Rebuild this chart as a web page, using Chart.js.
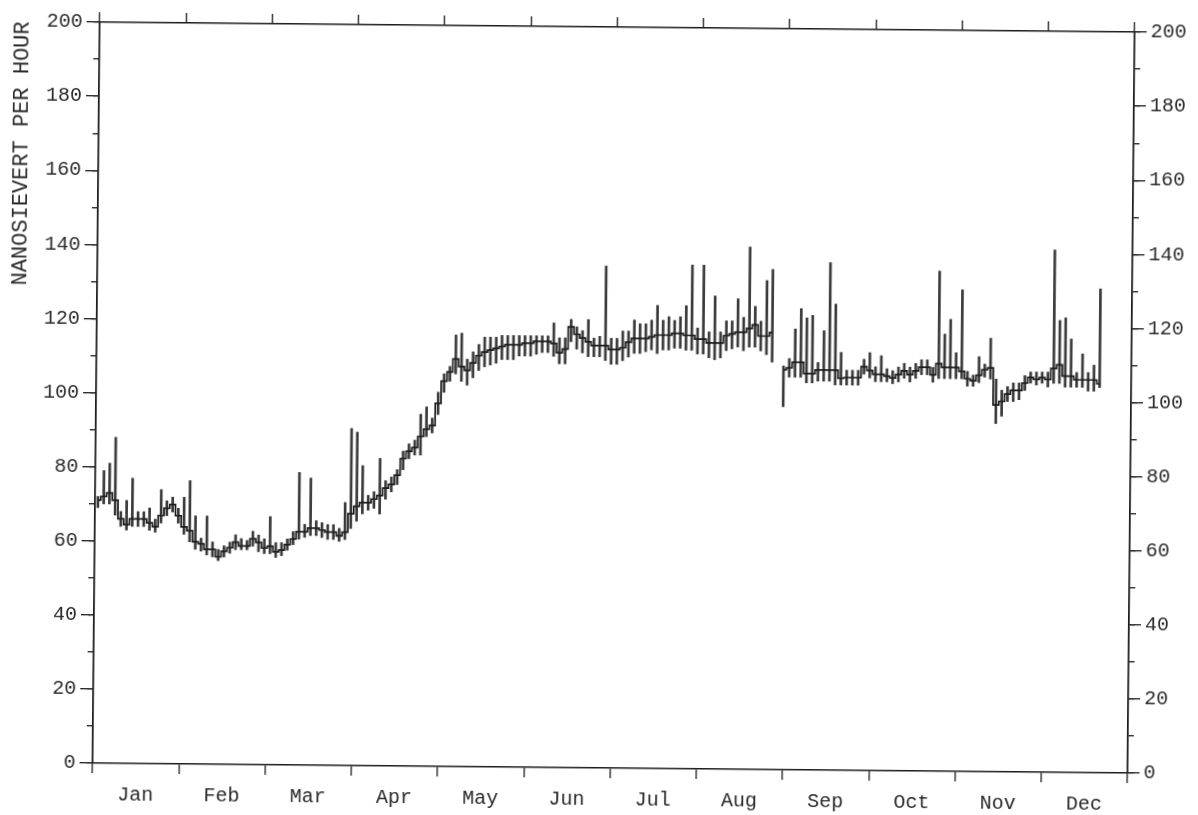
<!DOCTYPE html>
<html>
<head>
<meta charset="utf-8">
<script src="https://cdn.jsdelivr.net/npm/chart.js@4.4.1/dist/chart.umd.min.js"></script>
<style>
  html, body { margin: 0; background: #fff; overflow: hidden; }
  /* the scanned original is tilted by about half a degree */
  #wrap { width: 1198px; height: 815px; transform: rotate(0.55deg); transform-origin: 599px 407px; }
</style>
</head>
<body>
<div id="wrap"><canvas id="doseChart" width="1198" height="815"></canvas></div>
<script>
const MONTHS = ["Jan", "Feb", "Mar", "Apr", "May", "Jun", "Jul", "Aug", "Sep", "Oct", "Nov", "Dec"];
const SAMPLES_PER_MONTH = 15; // one reading every ~2 days
const Y_MAJOR_TICKS = [0, 20, 40, 60, 80, 100, 120, 140, 160, 180, 200];

// dose rate, nSv/h: running level, top and bottom of each day's swing
const doseLevel = [
  71, 72, 73, 71, 66, 64.5, 66, 66, 66, 65, 64, 67, 69, 70, 67,
  64, 63, 60, 59.5, 58, 58, 56, 57.5, 58.5, 60, 59, 59, 61, 60, 58.5,
  59, 57.5, 58, 59.5, 61, 63, 63, 64, 64, 63.5, 63, 63, 62, 63, 68,
  70, 71, 71, 72, 73, 75, 76, 78.5, 83, 85, 86, 89, 91, 92, 98,
  104, 106.5, 110, 108, 107, 109, 111, 112, 112.5, 113, 113.5, 114, 114, 114, 114.5,
  114.5, 115, 115, 115, 114.5, 112, 113, 119, 117, 116, 115, 114, 114, 114, 113,
  113, 113.5, 115, 116, 116, 116, 116.5, 117, 117, 117, 117.5, 117.5, 117, 117, 116,
  116, 115, 115, 115, 117, 117.5, 118, 118, 119, 120, 117, 117, 118, null, 108,
  108.5, 110, 110, 107, 107, 108, 108, 108, 108, 105.8, 106, 106, 106, 109, 108,
  107, 107, 106.5, 106, 107, 108, 107, 108, 109, 109, 107, 110, 109, 109, 109,
  108, 106, 105.5, 107, 108.5, 109, 99, 100, 102, 103, 103, 105, 106.5, 106, 106.5,
  106, 109, 110, 107, 107, 106, 106, 106, 106, 105, null, null, null, null, null
];
const doseHigh = [
  72, 79, 81, 88, 68, 71, 77, 68, 68, 69, 66, 74, 71, 72, 69,
  72, 76.5, 67, 61, 67, 60, 58, 59, 60, 62, 61, 60.5, 63, 62, 61,
  67, 60, 60, 61, 63, 79, 65, 77.5, 66, 65.5, 65, 65, 64, 71, 91,
  90, 81, 73, 74, 83, 77, 78, 80, 85, 87, 88, 95, 97, 94, 101,
  106, 108, 116.5, 117, 110, 112, 114, 116, 116, 116, 116.5, 116.5, 116.5, 116.5, 116.5,
  116.5, 116.5, 116.5, 116.5, 120, 116, 116, 121, 119, 118, 121, 116, 116.5, 135.5, 116,
  116, 118, 118, 121, 120, 120, 121, 125, 121, 122, 121, 122, 125, 136, 119,
  136, 118, 127.7, 118, 121, 121, 127, 122, 141, 125, 121, 132, 135, null, 109,
  111, 119, 124.5, 122, 122.7, 110, 118.6, 137, 125.8, 112.8, 108, 108, 108, 111, 112.8,
  109, 112, 108.5, 108, 109, 110, 109, 110, 111, 111, 109, 135, 118, 122, 113,
  130, 108, 107, 112, 110, 117, 106, 103, 104, 105, 105, 107, 108, 108, 108,
  108, 141, 122, 122.7, 117, 108, 113, 108, 110, 130.6, null, null, null, null, null
];
const doseLow = [
  69, 70, 70, 67, 64, 63, 64, 64, 64, 63, 62.5, 65, 67, 68, 65,
  62, 60, 58, 57.5, 56.5, 56, 55, 56, 57, 58, 58, 58, 59, 57.5, 57,
  57, 56, 56.5, 58, 59.5, 61, 61.5, 62, 62, 61.5, 61, 61, 60.5, 61, 64,
  66, 68, 69, 69.5, 68, 72, 74, 76, 80, 83, 84, 84, 89, 90, 95,
  101, 104, 106, 104, 103, 105, 107, 108, 108.5, 109, 110, 110, 110, 111, 111,
  111, 111.5, 112, 112, 111, 109, 109, 115, 113, 112, 111, 111, 111, 110, 109,
  109, 110, 111, 112, 112, 112.5, 113, 112, 113, 113, 113.5, 113.5, 113, 113, 112,
  112, 111, 110.5, 111, 113, 113.5, 114, 113, 114, 114, 113, 112, 110, null, 98,
  106, 106, 106, 104.5, 104.5, 105, 105, 105, 104, 104, 104, 104, 104, 107, 106,
  105, 105, 105, 104.5, 105, 106, 105, 106, 107, 107, 105, 106, 106, 106, 106,
  106, 104, 104, 105, 106.5, 106, 94, 96, 100, 100, 100.5, 103, 105, 104.5, 105,
  104, 105, 105, 104, 104, 104, 104, 103, 103, 104, null, null, null, null, null
];

const INK = "#1c1c1c";
const TEXT = "#2a2a2a";
const tickFont = { family: "'Liberation Mono', 'DejaVu Sans Mono', monospace", size: 20 };

const levelPoints = doseLevel.map((v, i) => ({ x: i + 0.5, y: v }));
const swingBars = doseHigh.map((h, i) => ({ x: i + 0.5, y: h == null ? null : [doseLow[i], h] }));

const xEnd = MONTHS.length * SAMPLES_PER_MONTH;

function tickAxis(position, length, step, width) {
  const vertical = position === "left" || position === "right";
  return {
    type: "linear",
    position: position,
    min: 0,
    max: vertical ? 200 : xEnd,
    offset: false,
    weight: 0,
    ticks: { display: false, stepSize: step },
    grid: { drawOnChartArea: false, offset: false, tickLength: length, color: INK, lineWidth: 1.3 },
    border: { display: true, color: INK, width: 1.5 },
    afterFit: (s) => {
      if (vertical) s.width = width;
      else s.height = width;
    },
  };
}

new Chart(document.getElementById("doseChart"), {
  type: "bar",
  data: {
    datasets: [
      {
        type: "line",
        data: levelPoints,
        borderColor: INK,
        borderWidth: 1.7,
        pointRadius: 0,
        stepped: "middle",
        spanGaps: false,
        xAxisID: "x",
        yAxisID: "y",
      },
      {
        data: swingBars,
        backgroundColor: "#3a3a3a",
        borderWidth: 0,
        barThickness: 2,
        grouped: false,
        xAxisID: "x",
        yAxisID: "y",
      },
    ],
  },
  options: {
    responsive: false,
    animation: false,
    devicePixelRatio: 1,
    layout: { padding: 0 },
    plugins: { legend: { display: false }, tooltip: { enabled: false } },
    scales: {
      x: {
        type: "linear",
        position: "bottom",
        min: 0,
        max: xEnd,
        offset: false,
        weight: 1,
        ticks: {
          stepSize: SAMPLES_PER_MONTH,
          autoSkip: false,
          maxRotation: 0,
          labelOffset: 43,
          padding: 10,
          color: TEXT,
          font: tickFont,
          callback: (v) => MONTHS[Math.round(v / SAMPLES_PER_MONTH)] || "",
        },
        grid: { drawOnChartArea: false, offset: false, tickLength: 10, color: INK, lineWidth: 1.3 },
        border: { display: true, color: INK, width: 1.5 },
        afterFit: (s) => { s.height = 47; },
      },
      xTop: tickAxis("top", 10, SAMPLES_PER_MONTH, 27),
      y: {
        type: "linear",
        position: "left",
        min: 0,
        max: 200,
        weight: 1,
        afterBuildTicks: (s) => { s.ticks = Y_MAJOR_TICKS.map((v) => ({ value: v })); },
        ticks: { color: TEXT, font: tickFont, padding: 4 },
        grid: { drawOnChartArea: false, tickLength: 13, color: INK, lineWidth: 1.3 },
        border: { display: true, color: INK, width: 1.5 },
        title: {
          display: true,
          text: "NANOSIEVERT PER HOUR",
          align: "end",
          color: TEXT,
          font: { family: tickFont.family, size: 22 },
          padding: { top: 6, bottom: 0 },
        },
        afterFit: (s) => { s.width = 96; },
      },
      yMinor: tickAxis("left", 6, 10, 0),
      yRight: {
        type: "linear",
        position: "right",
        min: 0,
        max: 200,
        weight: 1,
        afterBuildTicks: (s) => { s.ticks = Y_MAJOR_TICKS.map((v) => ({ value: v })); },
        ticks: { color: TEXT, font: tickFont, padding: 4 },
        grid: { drawOnChartArea: false, tickLength: 12, color: INK, lineWidth: 1.3 },
        border: { display: true, color: INK, width: 1.5 },
        afterFit: (s) => { s.width = 67; },
      },
      yRightMinor: tickAxis("right", 6, 10, 0),
    },
  },
});
</script>
</body>
</html>
